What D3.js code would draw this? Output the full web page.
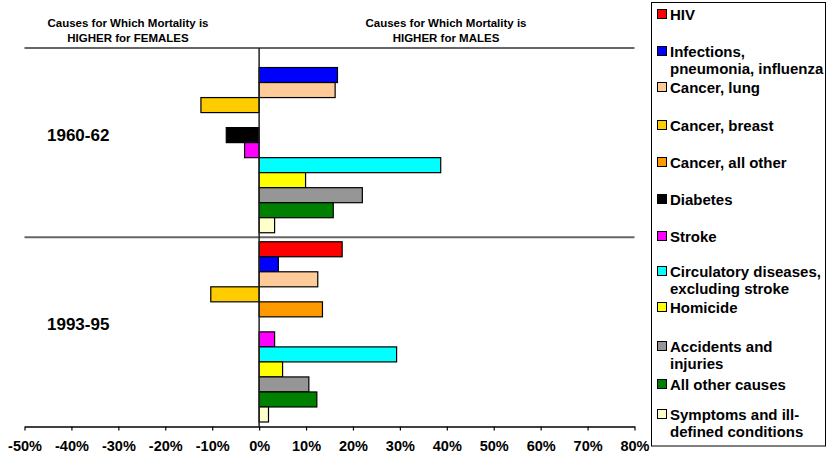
<!DOCTYPE html>
<html>
<head>
<meta charset="utf-8">
<script src="https://cdn.jsdelivr.net/npm/d3@7"></script>
<style>
  body {margin: 0; background: #fff;}
  text {font-family: "Liberation Sans", Arial, sans-serif; font-weight: bold; fill: #000;}
</style>
</head>
<body>
<script>
  // data (percent difference)
  const periods = ["1960-62", "1993-95"];
  const causes = ["HIV", "Infections, pneumonia, influenza", "Cancer, lung", "Cancer, breast",
                  "Cancer, all other", "Diabetes", "Stroke", "Circulatory diseases, excluding stroke",
                  "Homicide", "Accidents and injuries", "All other causes", "Symptoms and ill-defined conditions"];
  const values1960 = [0, 16.7, 16.2, -12.4, 0, -7.0, -3.1, 38.7, 9.9, 22.0, 15.8, 3.3];
  const values1993 = [17.7, 4.1, 12.5, -10.3, 13.5, 0, 3.3, 29.3, 5.0, 10.6, 12.3, 2.0];
  const tickValues = [-50, -40, -30, -20, -10, 0, 10, 20, 30, 40, 50, 60, 70, 80];
  const legendLines = [["HIV"], ["Infections,", "pneumonia, influenza"], ["Cancer, lung"], ["Cancer, breast"],
                       ["Cancer, all other"], ["Diabetes"], ["Stroke"], ["Circulatory diseases,", "excluding stroke"],
                       ["Homicide"], ["Accidents and", "injuries"], ["All other causes"], ["Symptoms and ill-", "defined conditions"]];
  const colors = ["#ff0000", "#0000ff", "#ffcc99", "#ffcc00", "#ff9900", "#000000",
                  "#ff00ff", "#00ffff", "#ffff00", "#969696", "#008000", "#ffffcc"];

  const width = 827, height = 458;
  const legendRowY = [20, 57, 93, 131, 168, 205, 242, 277, 313, 352, 390, 420];

  const svg = d3.select("body").append("svg")
      .attr("width", width)
      .attr("height", height);

  const x = d3.scaleLinear().domain([-50, 80]).range([24.5, 634.5]);
  const y = d3.scaleBand().domain(periods).range([48, 426.5]);
  const yInner = d3.scaleBand().domain(causes).range([0, y.bandwidth()]).paddingOuter(0.3);
  const color = d3.scaleOrdinal().domain(causes).range(colors);

  const rows = periods.map((p, i) => ({
    period: p,
    bars: causes.map((c, j) => ({cause: c, value: [values1960, values1993][i][j]}))
  }));

  // headers
  const headers = [
    {cx: 128, lines: ["Causes for Which Mortality is", "HIGHER for FEMALES"]},
    {cx: 446, lines: ["Causes for Which Mortality is", "HIGHER for MALES"]}
  ];
  headers.forEach(h => {
    svg.append("g").selectAll("text").data(h.lines).enter().append("text")
      .attr("x", h.cx)
      .attr("y", (d, i) => 27 + i * 14.5)
      .attr("text-anchor", "middle")
      .style("font-size", "11.5px")
      .text(d => d);
  });

  // separators at category boundaries
  svg.append("g").selectAll("line")
      .data(periods)
    .enter().append("line")
      .attr("x1", x(-50)).attr("x2", x(80))
      .attr("y1", d => y(d)).attr("y2", d => y(d))
      .attr("stroke", "#666").attr("stroke-width", 2);

  // bars
  const groups = svg.append("g").selectAll("g")
      .data(rows)
    .enter().append("g")
      .attr("transform", d => `translate(0,${ y(d.period) })`);

  groups.selectAll("rect")
      .data(d => d.bars.filter(b => b.value !== 0))
    .enter().append("rect")
      .attr("x", d => x(Math.min(0, d.value)))
      .attr("y", d => yInner(d.cause))
      .attr("width", d => Math.abs(x(d.value) - x(0)))
      .attr("height", yInner.bandwidth())
      .attr("fill", d => color(d.cause))
      .attr("stroke", "#000")
      .attr("stroke-width", 1.2);

  // period labels
  svg.append("g").selectAll("text")
      .data(periods)
    .enter().append("text")
      .attr("x", 47)
      .attr("y", d => y(d) + y.bandwidth() / 2 - 2)
      .style("font-size", "17px")
      .text(d => d);

  // zero line
  svg.append("line")
      .attr("x1", x(0)).attr("x2", x(0))
      .attr("y1", y.range()[0]).attr("y2", y.range()[1])
      .attr("stroke", "#222").attr("stroke-width", 1.5);

  // x axis
  const axis = svg.append("g")
      .attr("transform", `translate(0,${ y.range()[1] })`)
      .call(d3.axisBottom(x).tickValues(tickValues).tickSize(4).tickSizeOuter(0)
        .tickFormat(d => d + "%"));
  axis.select(".domain").attr("stroke", "#000").attr("stroke-width", 1.5);
  axis.selectAll(".tick line").attr("stroke", "#000").attr("stroke-width", 1.2);
  axis.selectAll(".tick text")
      .attr("y", 14)
      .attr("dy", "0.71em")
      .attr("fill", "#000")
      .style("font-family", "'Liberation Sans', Arial, sans-serif")
      .style("font-weight", "bold")
      .style("font-size", "14.5px");

  // legend
  const legend = svg.append("g");
  legend.append("rect")
      .attr("x", 651.5).attr("y", 2.5)
      .attr("width", 174).attr("height", 443.5)
      .attr("fill", "#fff").attr("stroke", "#000").attr("stroke-width", 1);

  const items = legend.selectAll("g.item")
      .data(causes)
    .enter().append("g")
      .attr("class", "item")
      .attr("transform", (d, i) => `translate(0,${ legendRowY[i] })`);

  items.append("rect")
      .attr("x", 657.5).attr("y", -10.5)
      .attr("width", 9).attr("height", 9)
      .attr("fill", d => color(d))
      .attr("stroke", "#000").attr("stroke-width", 1);

  items.append("text")
      .style("font-size", "15px")
      .selectAll("tspan")
      .data((d, i) => legendLines[i])
    .enter().append("tspan")
      .attr("x", 670)
      .attr("y", (d, i) => i * 16.5)
      .text(d => d);
</script>
</body>
</html>
